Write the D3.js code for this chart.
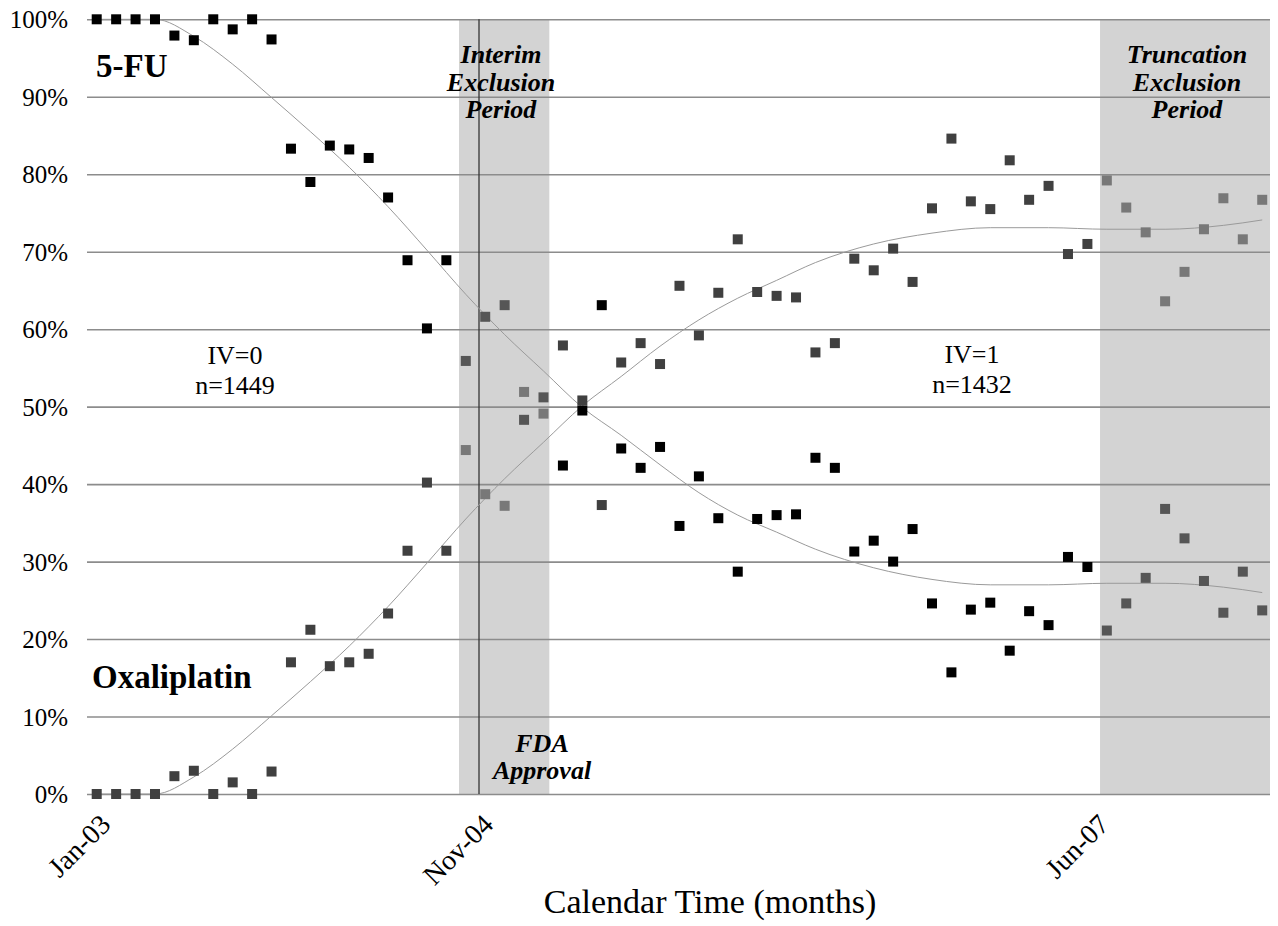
<!DOCTYPE html>
<html>
	<head>
		<script src="https://cdnjs.cloudflare.com/ajax/libs/d3/7.8.5/d3.min.js"></script>
		<title>5-FU vs Oxaliplatin by Calendar Time</title>
	</head>

	<style>
		body {
			margin: 0;
			background-color: #fff;
		}

		svg text {
			font-family: 'Liberation Serif', 'Times New Roman', serif;
			fill: #000;
		}

		.grid line {
			stroke: #8c8c8c;
			stroke-width: 1.6px;
		}

		.trend {
			fill: none;
			stroke: #9a9a9a;
			stroke-width: 1px;
		}
	</style>

	<body>
		<svg></svg>
	</body>

	<script type="text/javascript">
		// monthly share of patients (%), month index 0 = Jan-03
		var fu = [
			100, 100, 100, 100, 97.9, 97.3, 100, 98.7, 100, 97.4,
			83.3, 79.0, 83.7, 83.2, 82.1, 77.0, 68.9, 60.1, 68.9, 55.9,
			61.6, 63.1, 48.3, 51.2, 42.4, 49.5, 63.1, 44.6, 42.1, 44.8,
			34.6, 41.0, 35.6, 28.7, 35.5, 36.0, 36.1, 43.4, 42.1, 31.3,
			32.7, 30.0, 34.2, 24.6, 15.7, 23.8, 24.7, 18.5, 23.6, 21.8,
			30.6, 29.3, 21.1, 24.6, 27.9, 36.8, 33.0, 27.5, 23.4, 28.7,
			23.7
		];
		var oxali = [
			0, 0, 0, 0, 2.3, 3.0, 0, 1.5, 0, 2.9,
			17.0, 21.2, 16.5, 17.0, 18.1, 23.3, 31.4, 40.2, 31.4, 44.4,
			38.7, 37.2, 51.9, 49.1, 57.9, 50.8, 37.3, 55.7, 58.2, 55.5,
			65.6, 59.2, 64.7, 71.6, 64.8, 64.3, 64.1, 57.0, 58.2, 69.1,
			67.6, 70.4, 66.1, 75.6, 84.6, 76.5, 75.5, 81.8, 76.7, 78.5,
			69.7, 71.0, 79.2, 75.7, 72.5, 63.6, 67.4, 72.9, 76.9, 71.6,
			76.7
		];

		// trend lines at these month indices
		var trendIdx = [0, 3, 5, 7, 9, 11, 13, 15, 17, 19, 21, 23, 25, 27, 29, 31, 33, 35, 37, 40, 43, 46, 49, 52, 55, 58, 60];
		var trendFu = [100, 100, 97.8, 94.2, 89.9, 85.5, 80.9, 75.8, 70.2, 64.5, 59.3, 54.6, 49.9, 46.3, 42.5, 38.9, 36.0, 33.8, 31.6, 29.2, 27.7, 27.0, 27.0, 27.2, 27.2, 26.7, 26.0];
		var trendOxali = [0, 0, 2.2, 5.8, 10.1, 14.5, 19.1, 24.2, 29.8, 35.5, 40.7, 45.4, 50.1, 53.9, 57.8, 61.2, 64.0, 66.3, 68.6, 71.0, 72.4, 73.1, 73.1, 72.9, 72.9, 73.4, 74.1];

		var xTicks = [0, 19.7, 51.4];
		var xTickLabels = ['Jan-03', 'Nov-04', 'Jun-07'];
		var yTicks = [0, 10, 20, 30, 40, 50, 60, 70, 80, 90, 100];

		var interim = [18.65, 23.3];
		var truncation = [51.65, 60.4];
		var fdaApproval = 19.68;

		var width = 1278;
		var height = 926;

		var svg = d3.select( 'svg' )
			.attr( 'width', width )
			.attr( 'height', height );

		var x = d3.scaleLinear()
			.domain( [-0.5, 60.4] )
			.range( [87, 1270] );

		var y = d3.scaleLinear()
			.domain( [0, 100] )
			.range( [794, 19.3] );

		// shaded exclusion periods
		svg.selectAll( 'rect.period' )
			.data( [interim, truncation] )
			.enter().append( 'rect' )
				.attr( 'class', 'period' )
				.attr( 'x', function( d ) { return x( d[0] ); } )
				.attr( 'y', y( 100 ) )
				.attr( 'width', function( d ) { return x( d[1] ) - x( d[0] ); } )
				.attr( 'height', y( 0 ) - y( 100 ) )
				.attr( 'fill', '#d3d3d3' );

		// gridlines + y labels
		var yAxis = svg.append( 'g' )
			.attr( 'class', 'grid' )
			.attr( 'transform', 'translate(' + x( -0.5 ) + ',0)' )
			.call( d3.axisLeft( y )
				.tickValues( yTicks )
				.tickSize( -( x( 60.4 ) - x( -0.5 ) ) )
				.tickPadding( 19 )
				.tickFormat( function( d ) { return d + '%'; } ) );
		yAxis.select( '.domain' ).remove();
		yAxis.selectAll( 'text' )
			.style( 'font-size', '25px' )
			.attr( 'dy', '0.34em' );

		// FDA approval line
		svg.append( 'line' )
			.attr( 'x1', x( fdaApproval ) )
			.attr( 'x2', x( fdaApproval ) )
			.attr( 'y1', y( 100 ) )
			.attr( 'y2', y( 0 ) )
			.attr( 'stroke', '#333' )
			.attr( 'stroke-width', 1.3 );

		// x axis labels
		var xAxis = svg.append( 'g' )
			.attr( 'transform', 'translate(0,' + y( 0 ) + ')' )
			.call( d3.axisBottom( x )
				.tickValues( xTicks )
				.tickSize( 0 )
				.tickFormat( function( d, i ) { return xTickLabels[i]; } ) );
		xAxis.select( '.domain' ).remove();
		xAxis.selectAll( 'text' )
			.style( 'font-size', '28px' )
			.attr( 'text-anchor', 'end' )
			.attr( 'y', 0 )
			.attr( 'dy', 0 )
			.attr( 'transform', 'translate(15,32) rotate(-45)' );

		// trend lines
		var line = d3.line()
			.x( function( d ) { return x( d[0] ); } )
			.y( function( d ) { return y( d[1] ); } )
			.curve( d3.curveMonotoneX );

		[trendFu, trendOxali].forEach( function( t ) {
			svg.append( 'path' )
				.attr( 'class', 'trend' )
				.attr( 'd', line( trendIdx.map( function( v, i ) { return [v, t[i]]; } ) ) );
		} );

		function excluded( i ) {
			return ( i >= interim[0] && i <= interim[1] ) || ( i >= truncation[0] && i <= truncation[1] );
		}

		function drawSeries( values, color, exColor ) {
			svg.append( 'g' ).selectAll( 'rect' )
				.data( values )
				.enter().append( 'rect' )
					.attr( 'x', function( d, i ) { return x( i ) - 5; } )
					.attr( 'y', function( d ) { return y( d ) - 5; } )
					.attr( 'width', 10 )
					.attr( 'height', 10 )
					.attr( 'fill', function( d, i ) { return excluded( i ) ? exColor : color; } );
		}

		drawSeries( oxali, '#404040', '#787878' );
		drawSeries( fu, '#000', '#565656' );

		// annotations, one text per line
		function label( lines, cx, y0, lh, size, weight, style, anchor ) {
			lines.forEach( function( s, i ) {
				svg.append( 'text' )
					.attr( 'x', cx )
					.attr( 'y', y0 + i * lh )
					.attr( 'text-anchor', anchor || 'middle' )
					.style( 'font-size', size + 'px' )
					.style( 'font-weight', weight )
					.style( 'font-style', style )
					.text( s );
			} );
		}

		label( ['5-FU'], 96, 77, 0, 33, 'bold', 'normal', 'start' );
		label( ['Oxaliplatin'], 92, 688, 0, 33, 'bold', 'normal', 'start' );
		label( ['IV=0', 'n=1449'], 235, 364, 30, 26, 'normal', 'normal' );
		label( ['IV=1', 'n=1432'], 972, 363, 30, 26, 'normal', 'normal' );
		label( ['Interim', 'Exclusion', 'Period'], 501, 63, 27.5, 26, 'bold', 'italic' );
		label( ['Truncation', 'Exclusion', 'Period'], 1187, 63, 27.5, 26, 'bold', 'italic' );
		label( ['FDA', 'Approval'], 542, 752, 27, 26, 'bold', 'italic' );

		svg.append( 'text' )
			.attr( 'x', 710 )
			.attr( 'y', 913 )
			.attr( 'text-anchor', 'middle' )
			.style( 'font-size', '34px' )
			.text( 'Calendar Time (months)' );
	</script>

</html>
